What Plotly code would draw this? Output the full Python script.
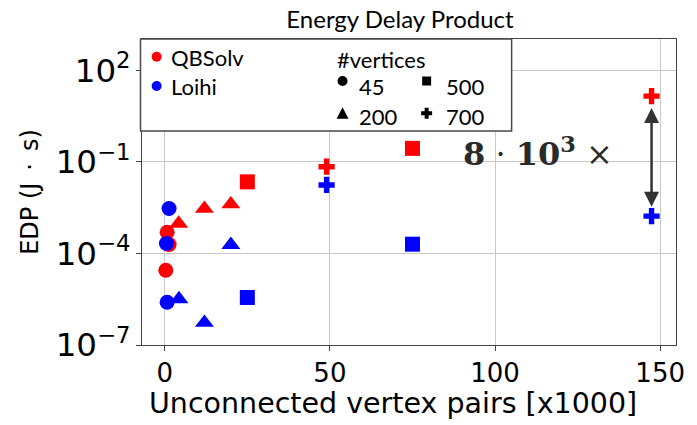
import math
import plotly.graph_objects as go

# ---------------- data ----------------
# x: unconnected vertex pairs [x1000], y: EDP (J*s)
qb_45_x = [0.7, 1.3, 0.3]
qb_45_y = [4.9e-4, 1.95e-4, 2.8e-5]
lo_45_x = [1.3, 0.5, 0.7]
lo_45_y = [2.95e-3, 2.1e-4, 2.5e-6]

qb_200_x = [4.2, 12.0, 20.0]
qb_200_y = [9.5e-4, 2.9e-3, 4.1e-3]
lo_200_x = [4.3, 12.0, 20.0]
lo_200_y = [3.2e-6, 5.4e-7, 1.9e-4]

qb_500_x = [25.0, 75.0]
qb_500_y = [2.2e-2, 0.275]
lo_500_x = [25.0, 75.0]
lo_500_y = [3.6e-6, 2.0e-4]

qb_700_x = [49.0, 147.4]
qb_700_y = [6.9e-2, 14.1]
lo_700_x = [49.0, 147.4]
lo_700_y = [1.74e-2, 1.66e-3]

x_ticks = [0, 50, 100, 150]
solvers = ["QBSolv", "Loihi"]
vertex_counts = ["45", "200", "500", "700"]
ratio_label = "<b>8</b> · <b>10<sup>3</sup></b> ×"

RED = "#ff0000"
BLUE = "#0000ff"

# ---------------- figure geometry ----------------
W, H = 697, 425
L, R, T, B = 142, 678, 39, 345


def px(xp):
    return (xp - L) / (R - L)


def py(yp):
    return (B - yp) / (B - T)


fig = go.Figure()

groups = [
    (qb_45_x, qb_45_y, RED, "circle", 15),
    (lo_45_x, lo_45_y, BLUE, "circle", 15),
    (qb_200_x, qb_200_y, RED, "triangle-up", 16.5),
    (lo_200_x, lo_200_y, BLUE, "triangle-up", 16.5),
    (qb_500_x, qb_500_y, RED, "square", 15),
    (lo_500_x, lo_500_y, BLUE, "square", 15),
    (qb_700_x, qb_700_y, RED, "cross", 13.5),
    (lo_700_x, lo_700_y, BLUE, "cross", 13.5),
]
for gx, gy, col, sym, sz in groups:
    fig.add_trace(go.Scatter(
        x=gx, y=gy, mode="markers",
        marker=dict(color=col, symbol=sym, size=sz, line=dict(width=0)),
        showlegend=False, hoverinfo="skip", cliponaxis=False,
    ))

# ---------------- custom legend ----------------
shapes = []
shapes.append(dict(type="rect", xref="paper", yref="paper",
                   x0=px(140.5), x1=px(513), y0=py(131), y1=py(39),
                   line=dict(color="#4a4a4a", width=1.5), fillcolor="white",
                   layer="above"))


def circ(cx, cy, d, col):
    return dict(type="circle", xref="paper", yref="paper",
                x0=px(cx - d / 2), x1=px(cx + d / 2),
                y0=py(cy + d / 2), y1=py(cy - d / 2),
                line=dict(width=0), fillcolor=col, layer="above")


def path(pts, col):
    d = "M " + " L ".join(f"{px(a):.5f},{py(b):.5f}" for a, b in pts) + " Z"
    return dict(type="path", xref="paper", yref="paper", path=d,
                line=dict(width=0), fillcolor=col, layer="above")


shapes.append(circ(156.7, 56.7, 10, RED))
shapes.append(circ(156.7, 86, 10, BLUE))
shapes.append(circ(343.3, 81, 10, "black"))
# square
sx, sy, s = 427.7, 81, 9
shapes.append(path([(sx - s / 2, sy - s / 2), (sx + s / 2, sy - s / 2),
                    (sx + s / 2, sy + s / 2), (sx - s / 2, sy + s / 2)], "black"))
# triangle
tx, ty = 343.3, 113.3
shapes.append(path([(tx - 6, ty + 5.5), (tx + 6, ty + 5.5), (tx, ty - 6)], "black"))
# plus
cx, cy, a, t = 427.7, 113.3, 5.5, 2.0
shapes.append(path([(cx - t, cy - a), (cx + t, cy - a), (cx + t, cy - t), (cx + a, cy - t),
                    (cx + a, cy + t), (cx + t, cy + t), (cx + t, cy + a), (cx - t, cy + a),
                    (cx - t, cy + t), (cx - a, cy + t), (cx - a, cy - t), (cx - t, cy - t)],
                   "black"))

annotations = []
LEG_FONT = dict(family="Lato", size=22, color="black")


def leg_text(txt, xp, yp):
    annotations.append(dict(text=txt, xref="paper", yref="paper",
                            x=px(xp), y=py(yp), xanchor="left", yanchor="middle",
                            showarrow=False, font=LEG_FONT))


leg_text(solvers[0], 169, 57)
leg_text(solvers[1], 169, 86)
leg_text("#vertices", 335.5, 59)
leg_text(vertex_counts[0], 357.5, 86)
leg_text(vertex_counts[2], 445, 86)
leg_text(vertex_counts[1], 357.5, 116)
leg_text(vertex_counts[3], 445, 116)

# ---------------- x-axis title (placed like the reference) ----------------
annotations.append(dict(
    text="Unconnected vertex pairs [x1000]", xref="paper", yref="paper",
    x=px(393.5), y=py(403), xanchor="center", yanchor="middle", showarrow=False,
    font=dict(family="DejaVu Sans", size=28.5, color="black"),
))

# ---------------- ratio arrow & label ----------------
y_top = math.log10(qb_700_y[-1]) - 0.39
y_bot = math.log10(lo_700_y[-1]) + 0.26
annotations.append(dict(
    x=qb_700_x[-1], y=y_top, ax=qb_700_x[-1], ay=y_bot,
    xref="x", yref="y", axref="x", ayref="y", text="", showarrow=True,
    arrowhead=2, startarrowhead=2, arrowside="end+start",
    arrowsize=1.2, startarrowsize=1.2, arrowwidth=2.5, arrowcolor="#333333",
    standoff=0, startstandoff=0,
))
annotations.append(dict(
    text=ratio_label, x=px(539), y=py(152), xref="paper", yref="paper",
    xanchor="center", yanchor="middle", showarrow=False,
    font=dict(family="DejaVu Serif", size=32, color="#2a2a2a"),
))

AX_COL = "#444444"
GRID = "#c8c8c8"
fig.update_layout(
    width=W, height=H,
    margin=dict(l=L, r=W - R, t=T, b=H - B),
    plot_bgcolor="white", paper_bgcolor="white",
    title=dict(text="Energy Delay Product", x=400 / W, xanchor="center",
               y=1 - 20 / H, yanchor="middle", yref="container",
               font=dict(family="Lato", size=24, color="black")),
    xaxis=dict(range=[-6.9, 154.8], tickvals=x_ticks, ticktext=[str(v) for v in x_ticks],
               showgrid=True, gridcolor=GRID, gridwidth=1.2, zeroline=False,
               showline=True, linecolor=AX_COL, linewidth=1.4, mirror=True,
               ticks="outside", ticklen=5, tickcolor=AX_COL, tickwidth=1.2,
               tickfont=dict(family="DejaVu Sans", size=26, color="black")),
    yaxis=dict(type="log", range=[-7.0, 3.02], dtick=3, tick0=2,
               exponentformat="power", showexponent="all",
               showgrid=True, gridcolor=GRID, gridwidth=1.2, zeroline=False,
               showline=True, linecolor=AX_COL, linewidth=1.4, mirror=True,
               ticks="outside", ticklen=5, tickcolor=AX_COL, tickwidth=1.2,
               tickfont=dict(family="DejaVu Sans", size=26, color="black"),
               title=dict(text="EDP (J\u2002·\u2002s)", standoff=10,
                          font=dict(family="DejaVu Sans", size=24, color="black"))),
    shapes=shapes,
    annotations=annotations,
)

fig.write_html("out.html")
